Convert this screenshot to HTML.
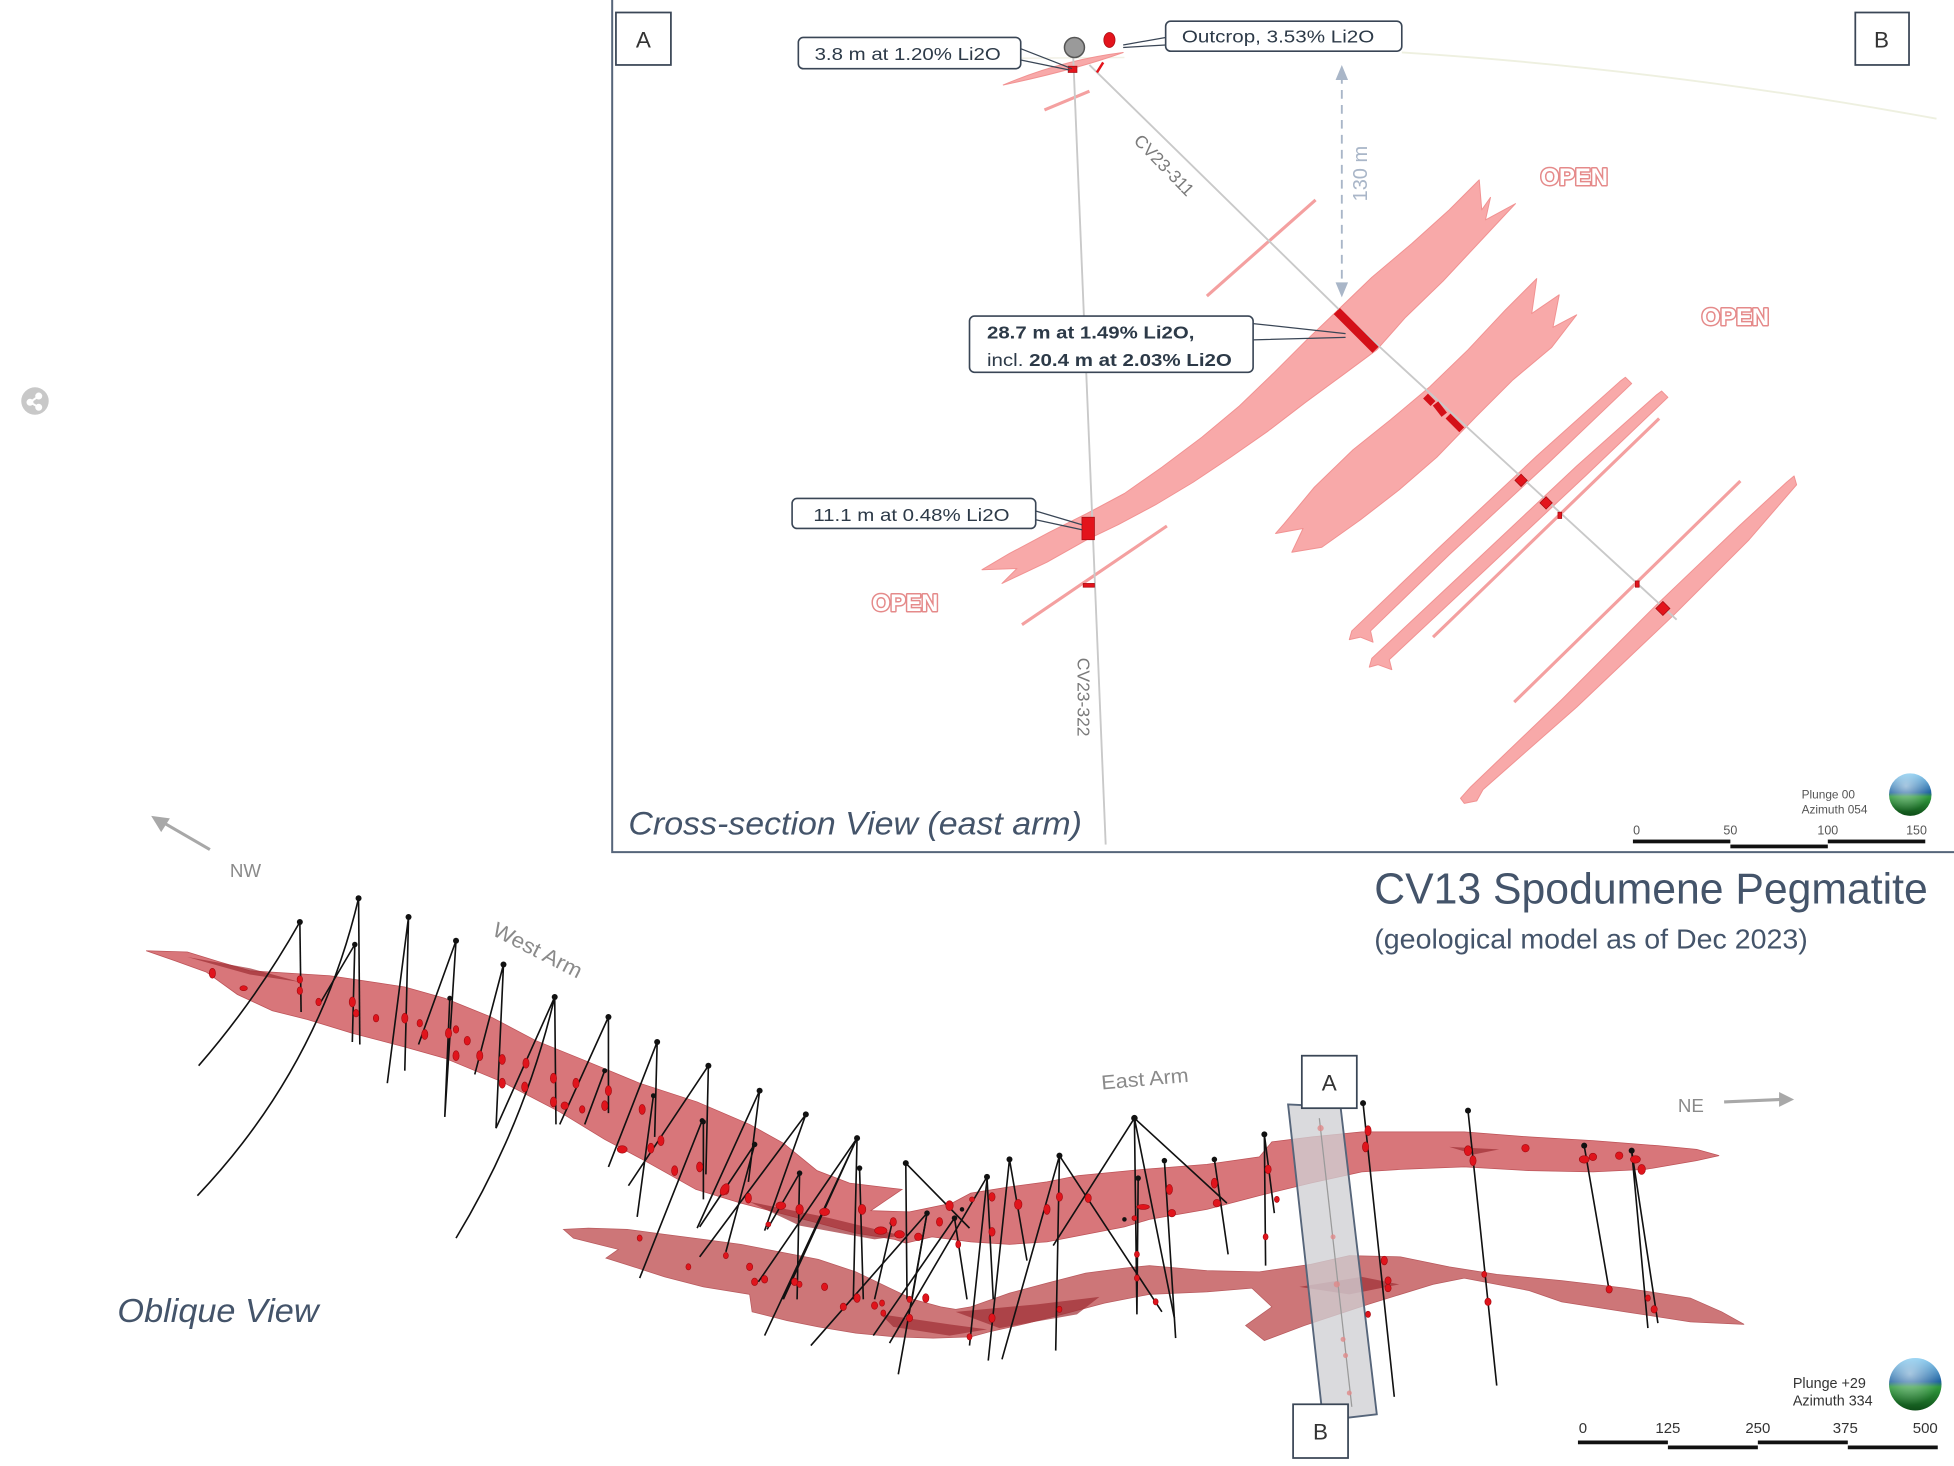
<!DOCTYPE html>
<html><head><meta charset="utf-8">
<style>
html,body{margin:0;padding:0;background:#fff;}
svg{display:block;}
</style></head><body>
<svg width="1954" height="1466" viewBox="0 0 1564 1173.4" preserveAspectRatio="none" xmlns="http://www.w3.org/2000/svg" font-family="Liberation Sans, sans-serif">
<defs>
<linearGradient id="gl" x1="0" y1="0" x2="0" y2="1">
<stop offset="0" stop-color="#7cc8f0"/><stop offset="0.45" stop-color="#1c5f9e"/><stop offset="0.55" stop-color="#2f9a3c"/><stop offset="1" stop-color="#0e4d18"/>
</linearGradient>
<radialGradient id="gh" cx="0.4" cy="0.3" r="0.6">
<stop offset="0" stop-color="#ffffff" stop-opacity="0.55"/><stop offset="1" stop-color="#ffffff" stop-opacity="0"/>
</radialGradient>
</defs>
<rect width="1564" height="1173.4" fill="#fff"/>

<!-- ============ CROSS SECTION PANEL ============ -->
<path d="M1122,42 Q1330,55 1550,95" fill="none" stroke="#eef0e0" stroke-width="1.5"/>
<path d="M640,48 L900,46" fill="none" stroke="#f2f1e6" stroke-width="1.2"/>

<g fill="#f8a9a9" stroke="#f19292" stroke-width="0.8" stroke-linejoin="round">
<path d="M1184,144 L1186,168 L1193,158 L1189,176 L1213,163 L1184,194 L1155,225 L1125,254 L1102,280 L1075,300 L1045,322 L1015,345 L985,366 L955,386 L925,404 L895,420 L870,432 L838,450 L802,467 L814,455 L786,456 L808,443 L840,426 L870,411 L900,395 L930,374 L962,350 L992,325 L1020,298 L1046,272 L1071,248 L1098,222 L1130,195 L1160,168 Z"/>
<path d="M1230,223 L1226,251 L1248,236 L1243,262 L1262,252 L1242,278 L1211,304 L1181,334 L1150,366 L1120,392 L1089,416 L1058,438 L1034,442 L1043,423 L1021,427 L1028,419 L1052,390 L1083,360 L1113,336 L1144,310 L1175,280 L1205,248 Z"/>
<path d="M1301,302 L1306,307 L1240,370 L1160,444 L1097,505 L1099,514 L1089,510 L1080,512 L1082,505 L1150,440 L1230,365 L1297,305 Z"/>
<path d="M1330,313 L1335,318 L1270,380 L1190,455 L1112,528 L1114,536 L1103,532 L1096,534 L1098,527 L1180,450 L1262,373 L1326,316 Z"/>
<path d="M1436,381 L1438,388 L1400,432 L1340,492 L1262,566 L1187,632 L1182,641 L1172,643 L1169,639 L1177,630 L1250,560 L1326,484 L1392,421 L1430,386 Z"/>
<path d="M803,68 Q850,48 899,42 Q860,56 803,68 Z"/>
</g>
<g stroke="#f4a0a0" fill="none">
<line x1="1328" y1="335" x2="1147" y2="510" stroke-width="2.5"/>
<line x1="1393" y1="385" x2="1212" y2="562" stroke-width="2.5"/>
<line x1="1053" y1="160" x2="966" y2="237" stroke-width="2.5"/>
<line x1="934" y1="421" x2="818" y2="500" stroke-width="2.5"/>
<line x1="872" y1="73" x2="836" y2="88" stroke-width="2.5"/>
</g>

<line x1="859" y1="45" x2="885" y2="676" stroke="#c9c9c9" stroke-width="1.5"/>
<polyline points="872,52 1072,248 1342,496" fill="none" stroke="#c9c9c9" stroke-width="1.5"/>
<text transform="translate(866,558) rotate(90)" text-anchor="middle" font-size="14" fill="#7a7a7a" dominant-baseline="middle">CV23-322</text>
<text transform="translate(931,133) rotate(46)" text-anchor="middle" font-size="14" fill="#7a7a7a" dominant-baseline="middle">CV23-311</text>

<line x1="1074" y1="60" x2="1074" y2="230" stroke="#a9b6c8" stroke-width="1.5" stroke-dasharray="7,5"/>
<path d="M1069,64 L1074,52 L1079,64 Z" fill="#a9b6c8"/>
<path d="M1069,226 L1074,238 L1079,226 Z" fill="#a9b6c8"/>
<text transform="translate(1090,139) rotate(-90)" text-anchor="middle" font-size="16" fill="#a9b6c8" dominant-baseline="middle">130 m</text>

<g fill="#e3141c" stroke="#a80a10" stroke-width="0.6">
<line x1="1070" y1="249" x2="1101" y2="280" stroke="#d41018" stroke-width="7"/>
<line x1="1141" y1="317" x2="1147" y2="323" stroke="#d41018" stroke-width="5.5"/>
<line x1="1149" y1="323" x2="1156" y2="332" stroke="#d41018" stroke-width="5.5"/>
<line x1="1159" y1="333" x2="1170" y2="344" stroke="#d41018" stroke-width="5.5"/>
<rect x="1214" y="381" width="7" height="7" transform="rotate(45 1217.5 384.5)"/>
<rect x="1234" y="399" width="7" height="7" transform="rotate(45 1237.5 402.5)"/>
<rect x="1247" y="410" width="3" height="5"/>
<rect x="1309" y="465" width="3" height="5"/>
<rect x="1327" y="483" width="8" height="8" transform="rotate(45 1331 487)"/>
<rect x="866" y="414" width="10" height="18"/>
<rect x="867" y="467" width="9" height="3"/>
<rect x="855" y="53" width="7" height="5"/>
<line x1="878" y1="58" x2="883" y2="50" stroke-width="2" stroke="#e3141c"/>
<ellipse cx="888" cy="32" rx="4.5" ry="6"/>
</g>
<circle cx="860" cy="38" r="8" fill="#9a9a9a" stroke="#555" stroke-width="1.2"/>

<g stroke="#3a4656" stroke-width="1" fill="none">
<path d="M817,39 L858,55 M817,48 L856,56"/>
<path d="M933,30 L899,36 M933,36 L899,38"/>
<path d="M1003,259 L1077,267 M1003,272 L1077,270"/>
<path d="M829,409 L866,420 M829,416 L866,424"/>
</g>
<g fill="#fff" stroke="#3a4656" stroke-width="1.3">
<rect x="639" y="30" width="178" height="25" rx="4"/>
<rect x="933" y="17" width="189" height="24" rx="4"/>
<rect x="776" y="253" width="227" height="45" rx="4"/>
<rect x="634" y="399" width="195" height="24" rx="4"/>
</g>
<g font-size="14" fill="#2d3a48">
<text x="652" y="48" textLength="149" lengthAdjust="spacingAndGlyphs">3.8 m at 1.20% Li2O</text>
<text x="946" y="34" textLength="154" lengthAdjust="spacingAndGlyphs">Outcrop, 3.53% Li2O</text>
<text x="790" y="271" font-weight="bold" textLength="166" lengthAdjust="spacingAndGlyphs">28.7 m at 1.49% Li2O,</text>
<text x="790" y="293" textLength="196" lengthAdjust="spacingAndGlyphs">incl. <tspan font-weight="bold">20.4 m at 2.03% Li2O</tspan></text>
<text x="651" y="417" textLength="157" lengthAdjust="spacingAndGlyphs">11.1 m at 0.48% Li2O</text>
</g>

<g font-size="19" font-weight="bold" fill="#fff" stroke="#e58a8a" stroke-width="2.4" paint-order="stroke" stroke-linejoin="round">
<text x="1233" y="148" textLength="54" lengthAdjust="spacingAndGlyphs">OPEN</text>
<text x="1362" y="260" textLength="54" lengthAdjust="spacingAndGlyphs">OPEN</text>
<text x="698" y="489" textLength="53" lengthAdjust="spacingAndGlyphs">OPEN</text>
</g>

<g fill="#fff" stroke="#3a4656" stroke-width="1.4">
<rect x="493" y="10" width="44" height="42"/>
<rect x="1485" y="10" width="43" height="42"/>
</g>
<g font-size="18" fill="#333" text-anchor="middle">
<text x="515" y="38">A</text>
<text x="1506" y="38">B</text>
</g>

<path d="M490,0 L490,682 L1564,682" fill="none" stroke="#56657a" stroke-width="1.6"/>

<text x="503" y="668" font-size="26" font-style="italic" fill="#44546a" textLength="363" lengthAdjust="spacingAndGlyphs">Cross-section View (east arm)</text>

<g font-size="9.5" fill="#555">
<text x="1442" y="639">Plunge 00</text>
<text x="1442" y="651">Azimuth 054</text>
</g>
<circle cx="1529" cy="636" r="17" fill="url(#gl)"/>
<circle cx="1529" cy="636" r="17" fill="url(#gh)"/>
<g font-size="10" fill="#555" text-anchor="middle">
<text x="1310" y="668">0</text><text x="1385" y="668">50</text><text x="1463" y="668">100</text><text x="1534" y="668">150</text>
</g>
<rect x="1307" y="672" width="78" height="3" fill="#111"/>
<rect x="1385" y="676" width="78" height="3" fill="#111"/>
<rect x="1463" y="672" width="78" height="3" fill="#111"/>

<circle cx="28" cy="321" r="11" fill="#c8c8c8"/>
<g stroke="#fff" stroke-width="1.6" fill="#fff"><line x1="24" y1="322" x2="31" y2="317"/><line x1="24" y1="322" x2="31" y2="326"/><circle cx="24" cy="322" r="2"/><circle cx="31" cy="317" r="2"/><circle cx="31" cy="326" r="2"/></g>

<!-- ============ OBLIQUE VIEW ============ -->
<text x="1100" y="723" font-size="35" fill="#44546a" textLength="443" lengthAdjust="spacingAndGlyphs">CV13 Spodumene Pegmatite</text>
<text x="1100" y="759" font-size="22" fill="#44546a" textLength="347" lengthAdjust="spacingAndGlyphs">(geological model as of Dec 2023)</text>

<line x1="168" y1="680" x2="130" y2="658" stroke="#a8a8a8" stroke-width="2.5"/>
<path d="M121,653 L136,655 L129,666 Z" fill="#a8a8a8"/>
<text x="184" y="702" font-size="15" fill="#8a8a8a">NW</text>
<line x1="1380" y1="882" x2="1426" y2="880" stroke="#a8a8a8" stroke-width="2.5"/>
<path d="M1436,880 L1424,874 L1424,886 Z" fill="#a8a8a8"/>
<text x="1343" y="890" font-size="15" fill="#8a8a8a">NE</text>
<text transform="translate(393,748) rotate(27)" font-size="17" fill="#8a8a8a" textLength="78" lengthAdjust="spacingAndGlyphs">West Arm</text>
<text transform="translate(882,872) rotate(-5)" font-size="16" fill="#8a8a8a" textLength="70" lengthAdjust="spacingAndGlyphs">East Arm</text>
<text x="94" y="1058" font-size="27" font-style="italic" fill="#44546a" textLength="161" lengthAdjust="spacingAndGlyphs">Oblique View</text>

<path d="M451,984 L471,983 L502,984 L532,988 L563,992 L593,996 L624,1002 L655,1008 L685,1018 L710,1030 L731,1040 L753,1046 L765,1048 L777,1046 L808,1035 L838,1027 L869,1019 L900,1015 L920,1013 L966,1017 L1008,1018 L1049,1012 L1080,1005 L1121,1006 L1160,1014 L1198,1020 L1250,1025 L1301,1031 L1353,1039 L1378,1050 L1396,1060 L1353,1058 L1301,1050 L1250,1042 L1224,1033 L1172,1023 L1147,1028 L1095,1044 L1044,1061 L1012,1073 L997,1061 L1018,1046 L1002,1031 L966,1034 L920,1036 L884,1043 L854,1051 L823,1059 L792,1066 L777,1070 L747,1071 L716,1070 L685,1067 L655,1062 L630,1057 L602,1050 L600,1036 L563,1030 L532,1022 L501,1012 L485,1007 L495,1000 L459,991 Z" fill="#c96a6c" fill-opacity="0.92" stroke="#b85a5e" stroke-width="0.6"/>
<path d="M117,761 L150,762 L176,770 L200,777 L232,779 L264,781 L291,785 L324,790 L356,799 L393,814 L429,833 L466,848 L512,867 L558,882 L600,900 L627,915 L654,937 L680,947 L722,952 L697,969 L728,970 L762,963 L777,955 L808,950 L838,946 L863,941 L915,936 L966,932 L1008,926 L1018,914 L1050,910 L1090,906 L1172,906 L1224,910 L1275,913 L1327,917 L1358,920 L1376,925 L1358,929 L1317,936 L1275,938 L1224,937 L1172,934 L1121,936 L1090,938 L1049,947 L1008,957 L966,968 L920,976 L900,982 L869,988 L838,994 L808,996 L777,994 L746,990 L725,995 L716,992 L685,987 L655,979 L624,971 L593,963 L557,952 L516,929 L484,912 L448,890 L402,866 L356,847 L324,838 L282,827 L246,816 L218,809 L190,796 L165,778 L140,769 Z" fill="#d4676b" fill-opacity="0.9" stroke="#bd5358" stroke-width="0.6"/>
<g fill="#9e2e33" fill-opacity="0.7">
<path d="M600,962 L660,974 L722,989 L700,992 L640,981 Z"/>
<path d="M765,1050 L830,1044 L880,1038 L862,1052 L800,1063 Z"/>
<path d="M705,1052 L760,1060 L790,1064 L760,1069 L715,1062 Z"/>
<path d="M1160,918 L1200,920 L1180,924 Z"/>
<path d="M1040,1030 L1090,1022 L1120,1028 L1080,1036 Z"/>
<path d="M150,766 L200,775 L240,786 L200,780 Z"/>
</g>

<polygon points="1031,884 1073,886 1102,1132 1059,1137" fill="#cfd0d4" fill-opacity="0.78" stroke="#56657a" stroke-width="1.5"/>
<line x1="1056" y1="895" x2="1082" y2="1126" stroke="#9a9a9a" stroke-width="1"/>
<g fill="#e08a8a" fill-opacity="0.8"><circle cx="1057" cy="903" r="2.5"/><circle cx="1067" cy="990" r="2"/><circle cx="1070" cy="1028" r="2.5"/><circle cx="1075" cy="1072" r="2"/><circle cx="1077" cy="1085" r="2"/><circle cx="1080" cy="1115" r="2"/></g>

<g stroke="#111" stroke-width="1.3" fill="none">
<path d="M240,738 Q205,800 159,853"/>
<path d="M240,738 L241,810"/>
<path d="M287,719 Q255,855 158,957"/>
<path d="M287,719 L288,836"/>
<path d="M284,756 L282,834 M284,756 L255,805"/>
<path d="M327,734 L310,867 M327,734 L324,857"/>
<path d="M365,753 L356,894 M365,753 L335,836 M360,799 L356,894"/>
<path d="M403,772 L397,903 M403,772 L380,860"/>
<path d="M444,798 L445,900 M444,798 Q420,900 365,991 M444,798 L397,903"/>
<path d="M487,814 L487,891 M487,814 L448,900"/>
<path d="M526,834 L487,934 M526,834 L524,910 M484,857 L468,900"/>
<path d="M523,877 L510,974 M567,853 L503,949 M567,853 L565,940 M562,897 L512,1023"/>
<path d="M608,873 L558,983 M608,873 L599,946 M604,916 L581,1002 M604,916 L560,982"/>
<path d="M645,892 L560,1006 M645,892 L612,985 M640,939 L614,984 M640,939 L638,1040"/>
<path d="M686,911 L607,1026 M686,911 L627,1040 M686,911 L683,1040 M686,911 L612,1069 M688,935 L691,1040"/>
<path d="M725,931 L726,1040 M725,931 L776,983 M742,971 L649,1077 M764,975 L699,1069 M790,942 L712,1075 M742,971 L719,1100"/>
<path d="M563,898 L563,960 M714,979 L700,1040 M742,971 L730,1040 M764,975 L774,1040 M790,942 L795,1040"/>
<path d="M808,928 L822,1009 M808,928 L791,1089 M790,944 L776,1077"/>
<path d="M848,925 L845,1081 M848,925 L802,1088 M848,925 L930,1050"/>
<path d="M908,895 L843,997 M908,895 L910,1052 M908,895 L982,963 M908,895 L940,1055 M911,943 L910,1052"/>
<path d="M932,929 L941,1071 M972,928 L983,1004 M1012,908 L1013,1013 M1012,908 L1020,971"/>
<path d="M1091,883 L1116,1118 M1175,889 L1198,1109 M1268,917 L1288,1033 M1306,921 L1319,1063 M1306,921 L1327,1059"/>
</g>
<g fill="#111">
<circle cx="240" cy="738" r="2.4"/><circle cx="287" cy="719" r="2.4"/><circle cx="284" cy="756" r="2.2"/><circle cx="327" cy="734" r="2.4"/><circle cx="365" cy="753" r="2.4"/><circle cx="360" cy="799" r="2"/><circle cx="403" cy="772" r="2.4"/><circle cx="444" cy="798" r="2.4"/><circle cx="487" cy="814" r="2.4"/><circle cx="526" cy="834" r="2.4"/><circle cx="484" cy="857" r="2"/><circle cx="523" cy="877" r="2"/><circle cx="567" cy="853" r="2.4"/><circle cx="562" cy="897" r="2"/><circle cx="608" cy="873" r="2.4"/><circle cx="604" cy="916" r="2.2"/><circle cx="645" cy="892" r="2.4"/><circle cx="640" cy="939" r="2.2"/><circle cx="686" cy="911" r="2.4"/><circle cx="688" cy="935" r="2.2"/><circle cx="725" cy="931" r="2.4"/><circle cx="742" cy="971" r="2.2"/><circle cx="764" cy="975" r="2.2"/><circle cx="790" cy="942" r="2.4"/><circle cx="714" cy="979" r="2"/><circle cx="563" cy="898" r="2"/><circle cx="808" cy="928" r="2.4"/><circle cx="848" cy="925" r="2.4"/><circle cx="908" cy="895" r="2.6"/><circle cx="911" cy="943" r="2.2"/><circle cx="932" cy="929" r="2.2"/><circle cx="972" cy="928" r="2.2"/><circle cx="1012" cy="908" r="2.4"/><circle cx="1091" cy="883" r="2.4"/><circle cx="1175" cy="889" r="2.4"/><circle cx="1268" cy="917" r="2.4"/><circle cx="1306" cy="921" r="2.4"/>
</g>

<g fill="#e0141c" stroke="#a50a10" stroke-width="0.5">
<ellipse cx="170" cy="779" rx="2.5" ry="4"/><ellipse cx="195" cy="791" rx="3" ry="2"/><ellipse cx="240" cy="784" rx="2.2" ry="3"/><ellipse cx="240" cy="793" rx="2.2" ry="3"/><ellipse cx="255" cy="802" rx="2.2" ry="3"/><ellipse cx="282" cy="802" rx="2.5" ry="4"/><ellipse cx="285" cy="811" rx="2.2" ry="3"/><ellipse cx="301" cy="815" rx="2.2" ry="3"/><ellipse cx="324" cy="815" rx="2.5" ry="4"/><ellipse cx="336" cy="819" rx="2.2" ry="3"/><ellipse cx="340" cy="828" rx="2.5" ry="4"/><ellipse cx="359" cy="827" rx="2.5" ry="4"/><ellipse cx="365" cy="824" rx="2.2" ry="3"/><ellipse cx="374" cy="833" rx="2.5" ry="3.5"/><ellipse cx="365" cy="845" rx="2.5" ry="4"/><ellipse cx="384" cy="845" rx="2.5" ry="4"/><ellipse cx="402" cy="848" rx="2.5" ry="4"/><ellipse cx="421" cy="851" rx="2.5" ry="4"/><ellipse cx="402" cy="867" rx="2.5" ry="4"/><ellipse cx="420" cy="870" rx="2.5" ry="4"/><ellipse cx="443" cy="863" rx="2.5" ry="4"/><ellipse cx="443" cy="882" rx="2.5" ry="4"/><ellipse cx="461" cy="867" rx="2.5" ry="4"/><ellipse cx="452" cy="885" rx="3" ry="3"/><ellipse cx="484" cy="885" rx="2.5" ry="4"/><ellipse cx="487" cy="873" rx="2.5" ry="4"/><ellipse cx="466" cy="888" rx="2.2" ry="3"/><ellipse cx="514" cy="888" rx="2.5" ry="4"/><ellipse cx="529" cy="913" rx="2.5" ry="4"/><ellipse cx="521" cy="919" rx="2.5" ry="4"/><ellipse cx="498" cy="920" rx="4" ry="3"/><ellipse cx="540" cy="937" rx="2.5" ry="4"/><ellipse cx="560" cy="934" rx="2.5" ry="4"/><ellipse cx="581" cy="952" rx="2.5" ry="4"/><ellipse cx="599" cy="959" rx="2.5" ry="4"/><ellipse cx="625" cy="965" rx="4" ry="3"/><ellipse cx="512" cy="991" rx="2" ry="2.5"/><ellipse cx="581" cy="1005" rx="2" ry="2.5"/><ellipse cx="604" cy="1026" rx="2.5" ry="3"/><ellipse cx="636" cy="1026" rx="2.5" ry="3"/><ellipse cx="615" cy="980" rx="2" ry="2"/><ellipse cx="551" cy="1014" rx="2" ry="2.5"/>
<ellipse cx="580" cy="952" rx="3" ry="5" transform="rotate(30 580 952)"/><ellipse cx="640" cy="968" rx="3" ry="4"/><ellipse cx="660" cy="970" rx="4" ry="3"/><ellipse cx="690" cy="968" rx="3" ry="4"/><ellipse cx="705" cy="985" rx="5" ry="3"/><ellipse cx="720" cy="988" rx="4" ry="3"/><ellipse cx="735" cy="990" rx="3" ry="3"/><ellipse cx="715" cy="978" rx="2.5" ry="3.5"/><ellipse cx="752" cy="978" rx="2.5" ry="3.5"/><ellipse cx="760" cy="965" rx="3" ry="4"/><ellipse cx="778" cy="960" rx="2" ry="2"/><ellipse cx="600" cy="1014" rx="2.5" ry="3"/><ellipse cx="660" cy="1030" rx="2.5" ry="3"/><ellipse cx="675" cy="1046" rx="2.5" ry="3"/><ellipse cx="700" cy="1045" rx="2.5" ry="3"/><ellipse cx="728" cy="1040" rx="2" ry="2.5"/><ellipse cx="640" cy="1028" rx="2" ry="2.5"/><ellipse cx="612" cy="1024" rx="2.5" ry="3"/>
<ellipse cx="1095" cy="905" rx="2.5" ry="4"/><ellipse cx="1093" cy="918" rx="2.5" ry="4"/><ellipse cx="1175" cy="921" rx="3" ry="4"/><ellipse cx="1179" cy="929" rx="2.5" ry="4"/><ellipse cx="1221" cy="919" rx="3" ry="3"/><ellipse cx="1268" cy="928" rx="4" ry="3"/><ellipse cx="1275" cy="926" rx="3" ry="3"/><ellipse cx="1296" cy="925" rx="3" ry="3"/><ellipse cx="1309" cy="928" rx="4" ry="3"/><ellipse cx="1314" cy="936" rx="3" ry="4"/><ellipse cx="1015" cy="936" rx="2.5" ry="3.5"/><ellipse cx="972" cy="947" rx="2.5" ry="4"/><ellipse cx="974" cy="963" rx="3" ry="3"/><ellipse cx="936" cy="952" rx="2.5" ry="4"/><ellipse cx="915" cy="966" rx="5" ry="2"/><ellipse cx="938" cy="971" rx="3" ry="3"/><ellipse cx="871" cy="959" rx="2.5" ry="3.5"/><ellipse cx="848" cy="958" rx="2.5" ry="3.5"/><ellipse cx="838" cy="968" rx="2.5" ry="4"/><ellipse cx="815" cy="964" rx="3" ry="4"/><ellipse cx="794" cy="958" rx="2.5" ry="3.5"/><ellipse cx="794" cy="986" rx="2.5" ry="3.5"/><ellipse cx="767" cy="996" rx="2" ry="3"/><ellipse cx="1013" cy="990" rx="2" ry="2.5"/><ellipse cx="910" cy="1004" rx="2" ry="2.5"/><ellipse cx="910" cy="1023" rx="2" ry="2.5"/><ellipse cx="1108" cy="1009" rx="2.5" ry="3.5"/><ellipse cx="1111" cy="1025" rx="2.5" ry="3"/><ellipse cx="1111" cy="1031" rx="2.5" ry="3"/><ellipse cx="1188" cy="1020" rx="2" ry="2.5"/><ellipse cx="1191" cy="1042" rx="2.5" ry="3"/><ellipse cx="1288" cy="1032" rx="2.5" ry="3"/><ellipse cx="1319" cy="1039" rx="2" ry="2.5"/><ellipse cx="1324" cy="1048" rx="2.5" ry="3"/><ellipse cx="1095" cy="1052" rx="2" ry="2.5"/><ellipse cx="794" cy="1055" rx="2.5" ry="3.5"/><ellipse cx="776" cy="1070" rx="2" ry="2.5"/><ellipse cx="848" cy="1048" rx="2" ry="2.5"/><ellipse cx="925" cy="1042" rx="2" ry="2.5"/><ellipse cx="908" cy="975" rx="2" ry="2"/><ellipse cx="1022" cy="960" rx="2" ry="2.5"/>
<ellipse cx="686" cy="1039" rx="2.5" ry="3.5"/><ellipse cx="706" cy="1043" rx="2" ry="2.5"/><ellipse cx="707" cy="1051" rx="2" ry="2.5"/><ellipse cx="728" cy="1055" rx="2.5" ry="3"/><ellipse cx="741" cy="1039" rx="2.5" ry="3.5"/>
</g>
<g fill="#111"><circle cx="900" cy="976" r="1.8"/><circle cx="770" cy="968" r="1.8"/></g>

<g fill="#fff" stroke="#3a4656" stroke-width="1.4">
<rect x="1042" y="845" width="44" height="42"/>
<rect x="1035" y="1124" width="44" height="43"/>
</g>
<g font-size="18" fill="#333" text-anchor="middle">
<text x="1064" y="873">A</text>
<text x="1057" y="1152">B</text>
</g>

<g font-size="11.5" fill="#333">
<text x="1435" y="1111">Plunge +29</text>
<text x="1435" y="1125">Azimuth 334</text>
</g>
<circle cx="1533" cy="1108" r="21" fill="url(#gl)"/>
<circle cx="1533" cy="1108" r="21" fill="url(#gh)"/>
<g font-size="12" fill="#333" text-anchor="middle">
<text x="1267" y="1147">0</text><text x="1335" y="1147">125</text><text x="1407" y="1147">250</text><text x="1477" y="1147">375</text><text x="1541" y="1147">500</text>
</g>
<rect x="1263" y="1153" width="72" height="3" fill="#111"/>
<rect x="1335" y="1157" width="72" height="3" fill="#111"/>
<rect x="1407" y="1153" width="72" height="3" fill="#111"/>
<rect x="1479" y="1157" width="72" height="3" fill="#111"/>
</svg>
</body></html>
